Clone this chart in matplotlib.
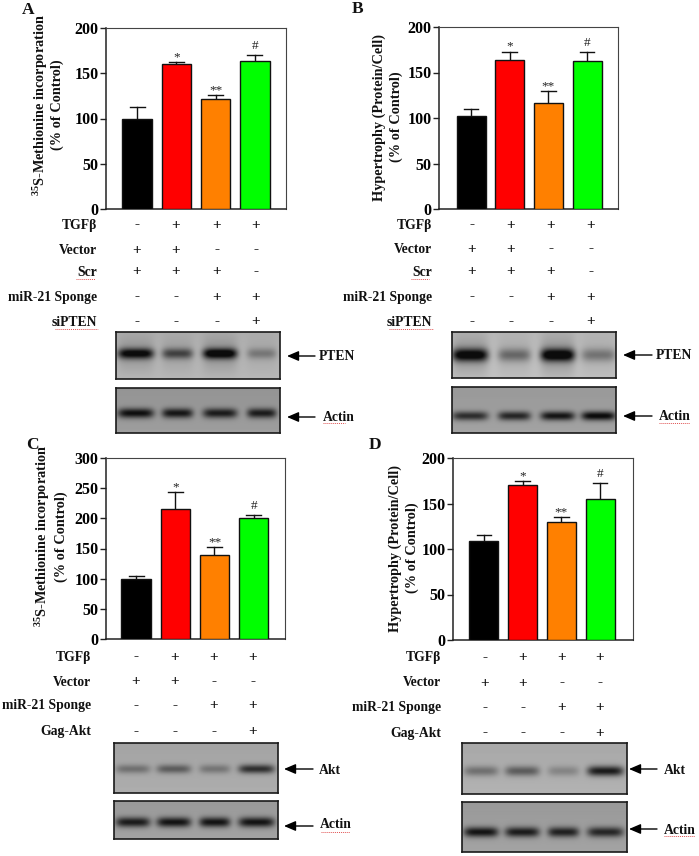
import numpy as np
import matplotlib
matplotlib.use('Agg')
import matplotlib.pyplot as plt

plt.rcParams['font.family'] = ['Liberation Serif', 'DejaVu Serif']
plt.rcParams['font.weight'] = 'bold'
plt.rcParams['mathtext.fontset'] = 'custom'
plt.rcParams['mathtext.bf'] = 'Liberation Serif:bold'
plt.rcParams['mathtext.rm'] = 'Liberation Serif:bold'

W, H = 699, 856

bar_colors = ['#000000', '#ff0000', '#ff8000', '#00ff00']

# bar heights and upper error values
vals_a = [100, 160, 122, 163]
tops_a = [113, 162, 126, 170]
vals_b = [102, 164, 117, 163]
tops_b = [110, 173, 130, 173]
vals_c = [100, 215, 140, 201]
tops_c = [105, 243, 152, 205]
vals_d = [109, 170, 130, 155]
tops_d = [115, 175, 135, 172]

sig_marks = ['', '*', '**', '#']

met_label = r'$\mathbf{^{35}}$S-Methionine incorporation'
hyp_label = 'Hypertrophy (Protein/Cell)'
ctrl_label = '(% of Control)'

# treatment tables
rows_ab = ['TGFβ', 'Vector', 'Scr', 'miR-21 Sponge', 'siPTEN']
signs_ab = [['-', '+', '+', '+'],
            ['+', '+', '-', '-'],
            ['+', '+', '+', '-'],
            ['-', '-', '+', '+'],
            ['-', '-', '-', '+']]
rows_cd = ['TGFβ', 'Vector', 'miR-21 Sponge', 'Gag-Akt']
signs_cd = [['-', '+', '+', '+'],
            ['+', '+', '-', '-'],
            ['-', '-', '+', '+'],
            ['-', '-', '-', '+']]

# blot band darkness per lane, estimated by eye
pten_a = [0.62, 0.38, 0.68, 0.20]
pten_b = [0.68, 0.28, 0.72, 0.24]
actin_a = [0.55, 0.52, 0.50, 0.50]
actin_b = [0.45, 0.48, 0.55, 0.60]
akt_c = [0.22, 0.30, 0.20, 0.48]
actin_c = [0.52, 0.55, 0.55, 0.55]
akt_d = [0.24, 0.32, 0.16, 0.58]
actin_d = [0.55, 0.52, 0.50, 0.48]

fig = plt.figure(figsize=(W / 100, H / 100), dpi=100)
fig.patch.set_facecolor('white')


def px_axes(x0, y0, x1, y1, **kw):
    return fig.add_axes([x0 / W, 1 - y1 / H, (x1 - x0) / W, (y1 - y0) / H], **kw)


def bar_panel(box, xlim, vals, tops, ymax, step):
    ax = px_axes(*box)
    x = np.arange(4)
    ax.bar(x, vals, width=0.75, color=bar_colors, edgecolor='#111111', linewidth=1.0, zorder=3)
    for i in x:
        ax.plot([i, i], [vals[i], tops[i]], color='#111111', lw=1.0, zorder=2)
        ax.plot([i - 0.19, i + 0.19], [tops[i], tops[i]], color='#111111', lw=1.0, zorder=2)
        off = 6.5 if sig_marks[i] == '#' else 3.5
        ax.annotate(sig_marks[i], (i, tops[i]), xytext=(0, off), textcoords='offset points',
                    ha='center', va='center', fontsize=9.5, fontweight='normal', color='#222222')
    ax.set_xlim(*xlim)
    ax.set_ylim(0, ymax)
    ax.set_xticks([])
    ax.set_yticks(np.arange(0, ymax + 1, step))
    ax.tick_params(axis='y', length=4, width=1, pad=1.5, labelsize=11.5, color='#222222')
    for name, sp in ax.spines.items():
        if name in ('left', 'bottom'):
            sp.set_linewidth(1.1)
            sp.set_color('#222222')
        else:
            sp.set_linewidth(0.8)
            sp.set_color('#444444')
    for lb in ax.get_yticklabels():
        lb.set_fontweight('bold')
    return ax


def blot(box, lanes, strengths, band_y, band_h, bg, smear=0.0):
    ax = px_axes(*box)
    w = int(box[2] - box[0]) * 2
    h = int(box[3] - box[1]) * 2
    xx = np.linspace(0, 1, w)
    yy = np.linspace(0, 1, h)
    img = np.full((h, w), bg, dtype=float)
    img = img + (0.04 * yy - 0.02)[:, None]
    for (a, b), s in zip(lanes, strengths):
        c = (a + b) / 2
        hw = (b - a) / 2
        px = np.exp(-np.abs((xx - c) / hw) ** 5)
        py = np.exp(-((yy - band_y) / band_h) ** 2)
        img -= s * np.outer(py, px)
        if smear:
            py2 = np.exp(-((yy - band_y) / (band_h * 3.2)) ** 2)
            img -= smear * s * np.outer(py2, px)
    ax.imshow(np.clip(img, 0.05, 1), cmap='gray', vmin=0, vmax=1, aspect='auto', interpolation='bilinear')
    ax.set_xticks([])
    ax.set_yticks([])
    for sp in ax.spines.values():
        sp.set_linewidth(1.2)
        sp.set_color('#1a1a1a')


# bar charts
bar_panel((106, 28, 286, 209), (-0.79, 3.79), vals_a, tops_a, 200, 50)
bar_panel((439, 27, 618, 209), (-0.83, 3.80), vals_b, tops_b, 200, 50)
bar_panel((106, 458, 285, 639), (-0.77, 3.80), vals_c, tops_c, 300, 50)
bar_panel((453, 458, 633, 640), (-0.80, 3.85), vals_d, tops_d, 200, 50)

# blots
lanes_a = [(0.01, 0.23), (0.28, 0.47), (0.53, 0.74), (0.80, 0.98)]
lanes_b = [(0.0, 0.22), (0.28, 0.48), (0.54, 0.75), (0.79, 1.0)]
lanes_cd = [(0.01, 0.22), (0.26, 0.47), (0.52, 0.71), (0.76, 0.98)]
blot((116, 332, 280, 379), lanes_a, pten_a, 0.47, 0.11, 0.70, smear=0.18)
blot((116, 388, 280, 433), lanes_a, actin_a, 0.56, 0.11, 0.60)
blot((452, 332, 616, 378), lanes_b, pten_b, 0.50, 0.14, 0.74, smear=0.2)
blot((452, 387, 616, 433), lanes_b, actin_b, 0.63, 0.10, 0.62)
blot((114, 743, 278, 793), lanes_cd, akt_c, 0.52, 0.09, 0.66)
blot((114, 801, 278, 839), lanes_cd, actin_c, 0.57, 0.13, 0.62)
blot((462, 743, 627, 794), lanes_cd, akt_d, 0.55, 0.10, 0.68)
blot((462, 802, 627, 852), lanes_cd, actin_d, 0.61, 0.10, 0.62)

# overlay in pixel coordinates for all the loose labels
ov = fig.add_axes([0, 0, 1, 1], zorder=10)
ov.set_xlim(0, W)
ov.set_ylim(H, 0)
ov.axis('off')
ov.patch.set_alpha(0)

for txt, x, y in [('A', 28, 10), ('B', 358, 9), ('C', 32, 445), ('D', 375, 445)]:
    ov.text(x, y, txt, fontsize=12.5, ha='center', va='center', color='#111111')

ylab_size = 10.3
for txt, x, y in [(met_label, 41, 105), (ctrl_label, 57, 105),
                  (hyp_label, 379, 117), (ctrl_label, 396, 117),
                  (met_label, 43, 536), (ctrl_label, 61, 537),
                  (hyp_label, 395, 548), (ctrl_label, 412, 548)]:
    ov.text(x, y, txt, rotation=90, fontsize=ylab_size, ha='center', va='center', color='#111111')


def squiggle(x0, x1, y):
    ov.plot([x0, x1], [y, y], color='#e05050', lw=0.7, ls=(0, (1, 1)))


def table(rows, signs, ys, label_x, mark_x):
    for name, y, row in zip(rows, ys, signs):
        ov.text(label_x, y, name, fontsize=9.8, ha='right', va='center', color='#111111')
        for x, s in zip(mark_x, row):
            ov.text(x, y, s, fontsize=11, ha='center', va='center', color='#111111')


table(rows_ab, signs_ab, [225, 250, 272, 297, 322], 97, [137, 176, 217, 256])
table(rows_ab, signs_ab, [225, 249, 272, 297, 322], 432, [472, 511, 551, 591])
table(rows_cd, signs_cd, [657, 682, 706, 732], 91, [136, 175, 214, 253])
table(rows_cd, signs_cd, [658, 683, 708, 733], 441, [485, 523, 562, 600])


def arrow(x0, x1, y, name, lx, ly=None):
    ov.annotate('', xy=(x0, y), xytext=(x1, y),
                arrowprops=dict(arrowstyle='-|>,head_length=0.7,head_width=0.3', color='black',
                                lw=1.0, shrinkA=0, shrinkB=0))
    ov.text(lx, y if ly is None else ly, name, fontsize=9.8, ha='left', va='center', color='#111111')


arrow(287, 315, 356, 'PTEN', 319)
arrow(287, 315, 417, 'Actin', 323)
arrow(623, 652, 355, 'PTEN', 656)
arrow(623, 652, 416, 'Actin', 659)
arrow(284, 313, 769, 'Akt', 319, 770)
arrow(284, 313, 826, 'Actin', 320, 825)
arrow(629, 657, 769, 'Akt', 664, 770)
arrow(629, 657, 829, 'Actin', 664, 830)

for x0, x1, y in [(76, 95, 279), (55, 98, 329), (411, 429, 279), (389, 433, 329),
                  (323, 345, 423), (659, 690, 423), (321, 350, 832), (664, 695, 836)]:
    squiggle(x0, x1, y)

fig.savefig('out.png', dpi=100)
